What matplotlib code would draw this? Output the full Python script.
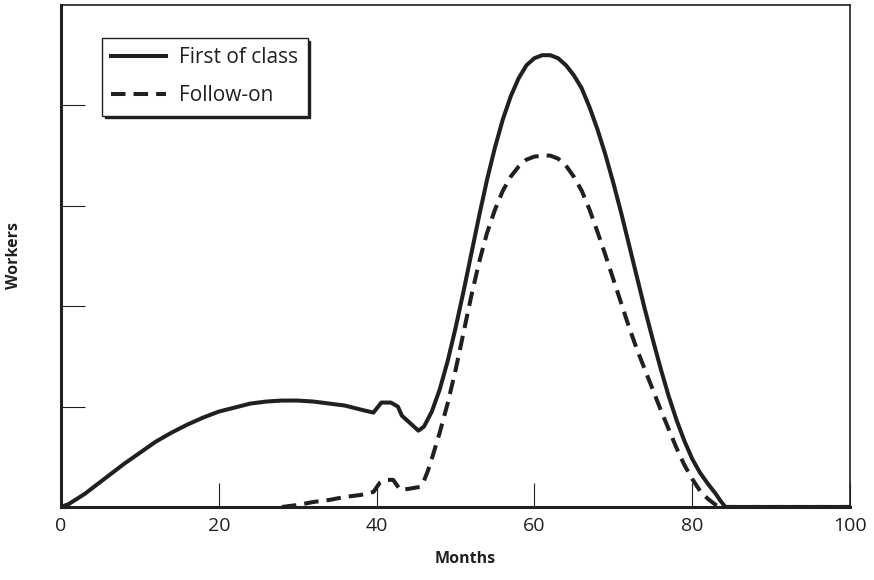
import matplotlib
matplotlib.use("Agg")
import matplotlib.pyplot as plt

plt.rcParams["font.family"] = ["Open Sans", "DejaVu Sans"]

# workers over time (y in tick units)
first_x = [0, 1, 2, 3, 4, 6, 8, 10, 12, 14, 16, 18, 20, 22, 24, 26, 28, 30, 32, 34, 36, 38,
           39.6, 40.6, 41.8, 42.7, 43.2, 45.3, 46, 47, 48, 49, 50, 51, 52, 53, 54, 55, 56, 57,
           58, 59, 60, 61, 62, 63, 64, 65, 66, 67, 68, 69, 70, 71, 72, 73, 74, 75, 76, 77, 78,
           79, 80, 81, 82, 83, 83.6, 84.2, 100]
first_y = [0, 0.03, 0.08, 0.13, 0.19, 0.31, 0.43, 0.54, 0.65, 0.74, 0.82, 0.89, 0.95, 0.99,
           1.03, 1.05, 1.06, 1.06, 1.05, 1.03, 1.01, 0.97, 0.94, 1.04, 1.04, 1.00, 0.91, 0.76,
           0.80, 0.95, 1.17, 1.45, 1.78, 2.14, 2.52, 2.90, 3.26, 3.58, 3.86, 4.09, 4.27, 4.40,
           4.47, 4.50, 4.50, 4.47, 4.40, 4.30, 4.17, 3.98, 3.76, 3.51, 3.23, 2.93, 2.61, 2.29,
           1.97, 1.67, 1.38, 1.11, 0.87, 0.66, 0.48, 0.34, 0.23, 0.13, 0.06, 0, 0]

follow_x = [28, 30, 32, 34, 36, 38, 39.6, 40.4, 41.2, 42.1, 43, 44, 45.5, 46, 46.5, 47, 48,
            49, 50, 51, 52, 53, 54, 55, 56, 57, 58, 59, 60, 61, 62, 63, 64, 65, 66, 67, 68,
            69, 70, 71, 72, 73, 74, 75, 76, 77, 78, 79, 80, 81, 82, 83, 83.6, 100]
follow_y = [0, 0.02, 0.05, 0.07, 0.10, 0.12, 0.15, 0.24, 0.27, 0.27, 0.17, 0.18, 0.20, 0.26,
            0.36, 0.48, 0.74, 1.03, 1.36, 1.73, 2.10, 2.44, 2.73, 2.96, 3.15, 3.29, 3.39,
            3.46, 3.49, 3.50, 3.50, 3.47, 3.40, 3.29, 3.15, 2.96, 2.74, 2.51, 2.27, 2.03,
            1.79, 1.57, 1.37, 1.17, 0.97, 0.78, 0.59, 0.42, 0.28, 0.16, 0.08, 0.02, 0, 0]

x_ticks = [0, 20, 40, 60, 80, 100]
y_ticks = [1, 2, 3, 4]

fig = plt.figure(figsize=(8.74, 5.80), dpi=100)
ax = fig.add_axes([0.0698, 0.1259, 0.9027, 0.8655])

ax.plot(first_x, first_y, color="#231f20", lw=2.9, solid_joinstyle="round",
        label="First of class", zorder=3)
ax.plot(follow_x, follow_y, color="#231f20", lw=2.9, dashes=(3.6, 2.0),
        label="Follow-on", zorder=3)

ax.set_xlim(0, 100)
ax.set_ylim(0, 5)
ax.set_xticks(x_ticks)
ax.set_xticklabels([str(t) for t in x_ticks])
ax.set_yticks(y_ticks)
ax.set_yticklabels([])
ax.tick_params(direction="in", length=17, width=0.8, color="#231f20")
ax.tick_params(axis="x", labelsize=14, pad=7, labelcolor="#231f20")

for side in ["left", "bottom"]:
    ax.spines[side].set_linewidth(2.2)
for side in ["top", "right"]:
    ax.spines[side].set_linewidth(1.2)
for sp in ax.spines.values():
    sp.set_color("#231f20")

ax.set_xlabel("Months", fontsize=11.5, fontweight="bold", color="#231f20")
ax.xaxis.set_label_coords(0.5125, -0.088)
ax.set_ylabel("Workers", fontsize=11.5, fontweight="bold", color="#231f20")
ax.yaxis.set_label_coords(-0.05, 0.5)

leg = ax.legend(loc="upper left", bbox_to_anchor=(0.052, 0.934), borderaxespad=0,
                fontsize=15, frameon=True, fancybox=False, handlelength=2.6,
                handletextpad=0.65, labelspacing=0.8, borderpad=0.45,
                shadow={"color": "#231f20", "alpha": 1.0})
leg.get_frame().set_edgecolor("#231f20")
leg.get_frame().set_linewidth(1.0)
for t in leg.get_texts():
    t.set_color("#231f20")

fig.savefig("out.png", dpi=100)
